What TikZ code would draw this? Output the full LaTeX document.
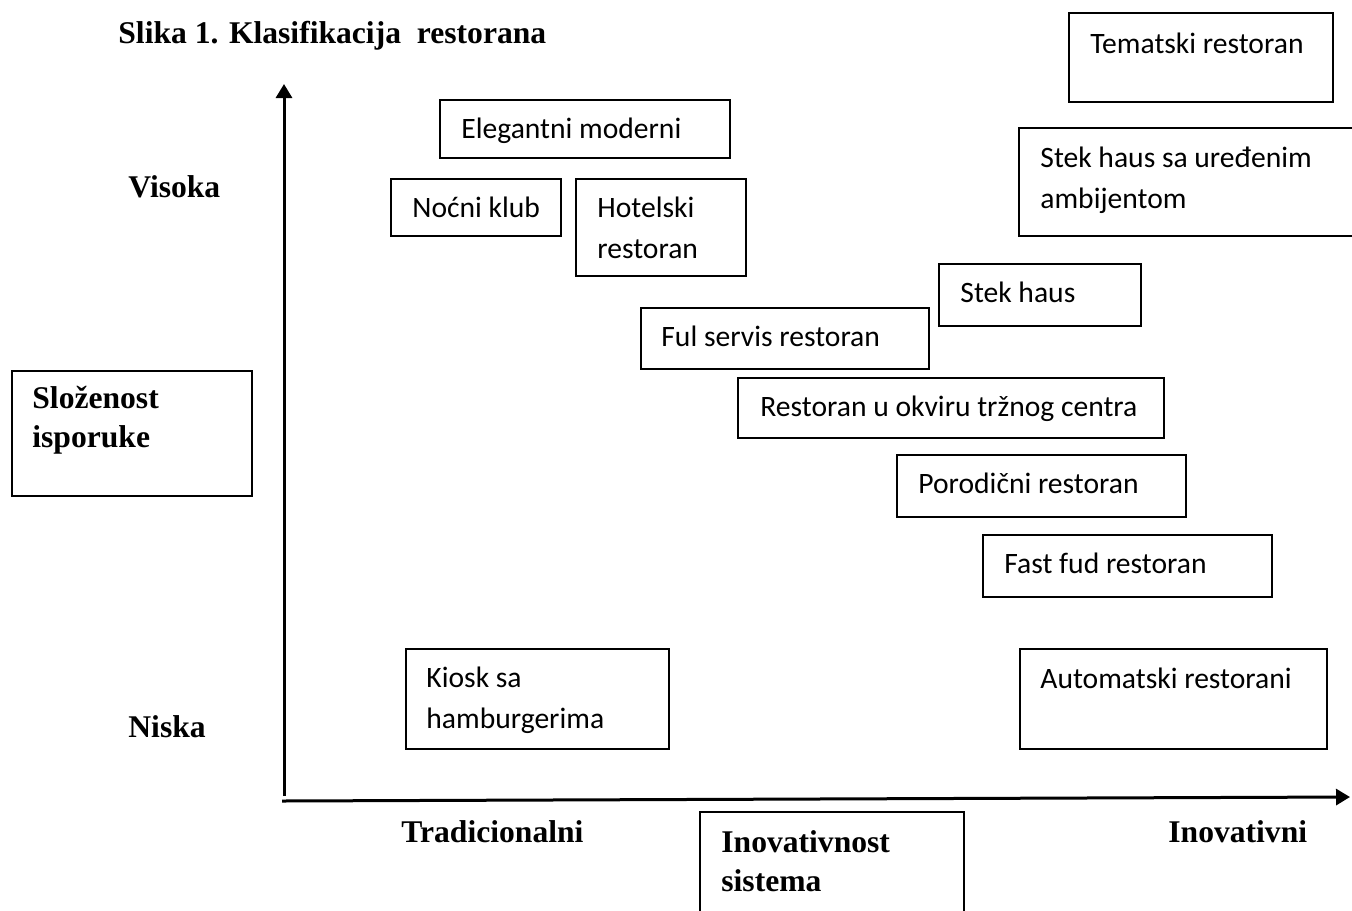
\documentclass[tikz,border=0pt]{standalone}
\usepackage{fontspec}
\setmainfont{Liberation Serif}
\newfontfamily\boxfont{Carlito}
\usetikzlibrary{arrows.meta}
\tikzset{
  bx/.style 2 args={draw, line width=1pt, rectangle, anchor=north west, inner sep=0pt,
    minimum width=#1*0.5pt, minimum height=#2*0.5pt},
  openbx/.style 2 args={rectangle, anchor=north west, inner sep=0pt,
    minimum width=#1*0.5pt, minimum height=#2*0.5pt},
  edge/.style={line width=1pt},
  lbl/.style={anchor=base west, inner sep=0pt, font=\boxfont\fontsize{14.8pt}{20.5pt}\selectfont},
  hd/.style={anchor=base west, inner sep=0pt, font=\bfseries\fontsize{15.8pt}{19.5pt}\selectfont},
  axis/.style={line width=1.5pt, -{Triangle[length=7pt,width=8pt]}}
}
\begin{document}
\begin{tikzpicture}[x=0.5pt,y=-0.5pt]
\fill[white] (0,0) rectangle (1352,910);
\useasboundingbox (0,0) rectangle (1352,910);
% title
\node[hd] (title) at (118,43) {Slika 1. Klasifikacija\ \ restorana};
% axes
\coordinate (o1) at (284,796);
\coordinate (ytip) at (284,84);
\coordinate (o2) at (282,801);
\coordinate (xtip) at (1350,797);
\draw[axis] (o1) -- (ytip);
\draw[axis] (o2) -- (xtip);
% axis labels
\node[hd] (vis) at (128,197) {Visoka};
\node[hd] (nis) at (128,737) {Niska};
\node[hd] (tra) at (401,842) {Tradicionalni};
\node[hd] (inv) at (1168,842) {Inovativni};
\node[bx={240}{125}] (slo) at (11,370) {};
\node[hd] (slot) at (32,408) {\begin{tabular}[t]{@{}l@{}}Složenost\\isporuke\end{tabular}};
\node[openbx={263}{98}] (ino) at (700,812) {};
\draw[edge] (ino.south west) -- (ino.north west) -- (ino.north east) -- (ino.south east);
\node[hd] (inot) at (721,852) {\begin{tabular}[t]{@{}l@{}}Inovativnost\\sistema\end{tabular}};
% boxes
\node[bx={264}{89}] (tem) at (1068,12) {};
\node[lbl] (temt) at (1090,53) {Tematski restoran};
\node[bx={290}{58}] (ele) at (439,99) {};
\node[lbl] (elet) at (461,138) {Elegantni moderni};
\node[bx={170}{57}] (noc) at (390,178) {};
\node[lbl] (noct) at (412,217) {Noćni klub};
\node[bx={170}{97}] (hot) at (575,178) {};
\node[lbl] (hott) at (597,217) {\begin{tabular}[t]{@{}l@{}}Hotelski\\restoran\end{tabular}};
\node[openbx={333}{107}] (sha) at (1019,128) {};
\draw[edge] (sha.north east) -- (sha.north west) -- (sha.south west) -- (sha.south east);
\node[lbl] (shat) at (1040,167) {\begin{tabular}[t]{@{}l@{}}Stek haus sa uređenim\\ambijentom\end{tabular}};
\node[bx={202}{62}] (stk) at (938,263) {};
\node[lbl] (stkt) at (960,302) {Stek haus};
\node[bx={288}{61}] (ful) at (640,307) {};
\node[lbl] (fult) at (661,346) {Ful servis restoran};
\node[bx={426}{60}] (rtc) at (737,377) {};
\node[lbl] (rtct) at (760,416) {Restoran u okviru tržnog centra};
\node[bx={289}{62}] (por) at (896,454) {};
\node[lbl] (port) at (918,493) {Porodični restoran};
\node[bx={289}{62}] (fst) at (982,534) {};
\node[lbl] (fstt) at (1004,573) {Fast fud restoran};
\node[bx={263}{100}] (kio) at (405,648) {};
\node[lbl] (kiot) at (426,687) {\begin{tabular}[t]{@{}l@{}}Kiosk sa\\hamburgerima\end{tabular}};
\node[bx={307}{100}] (aut) at (1019,648) {};
\node[lbl] (autt) at (1040,688) {Automatski restorani};
\end{tikzpicture}
\end{document}
